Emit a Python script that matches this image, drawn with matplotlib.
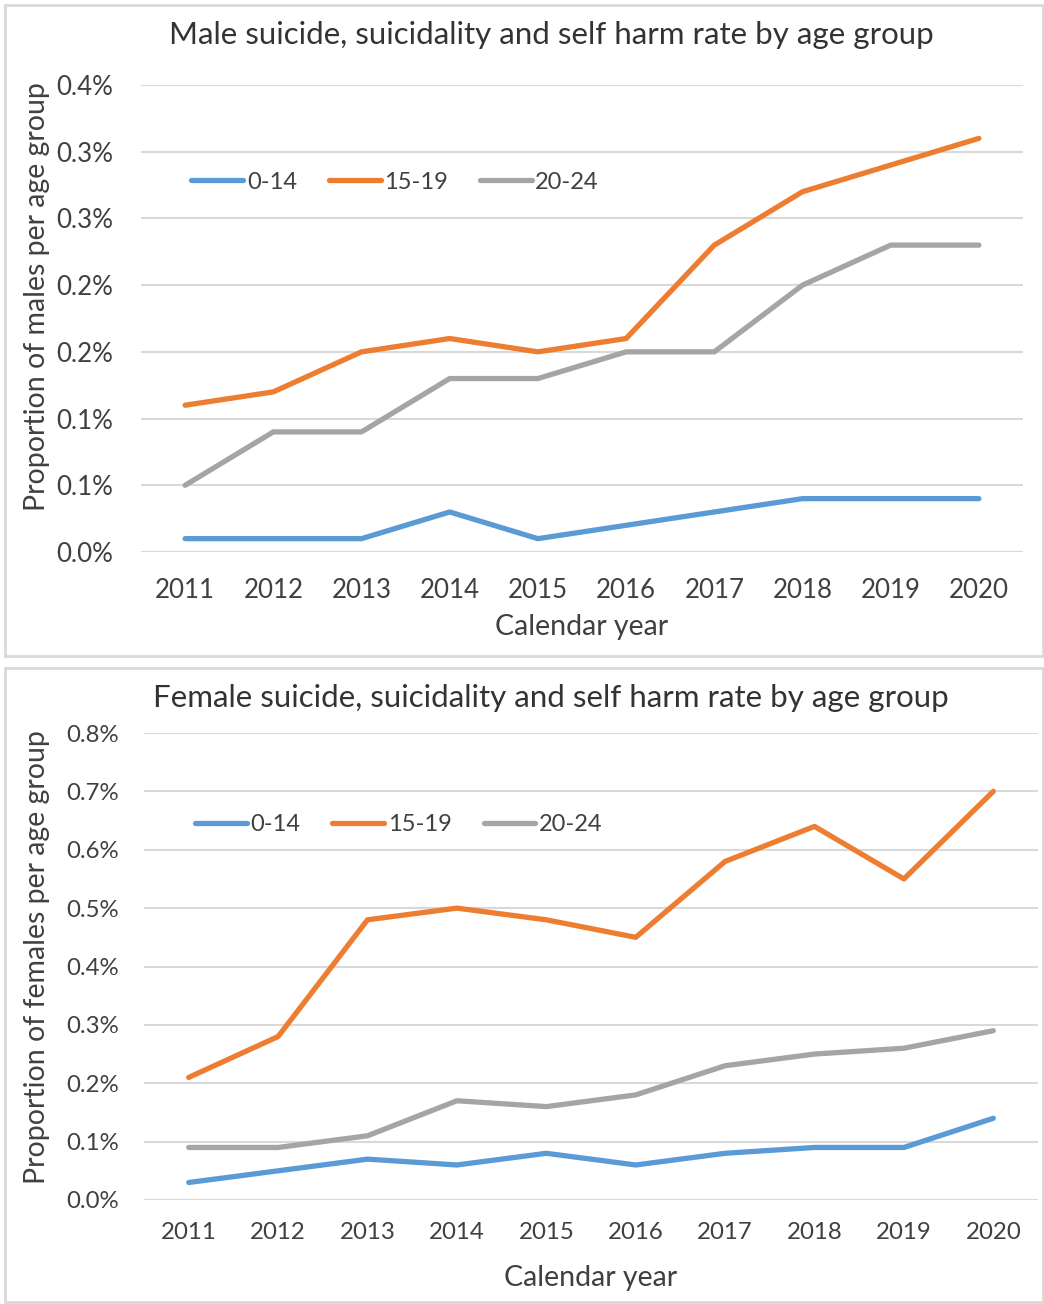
import matplotlib
matplotlib.use("Agg")
import matplotlib.pyplot as plt
from matplotlib.patches import Rectangle
from matplotlib.ticker import FixedLocator, FuncFormatter

plt.rcParams["font.family"] = ["Lato", "DejaVu Sans"]

years = ["2011", "2012", "2013", "2014", "2015", "2016", "2017", "2018", "2019", "2020"]
groups = ["0-14", "15-19", "20-24"]
colors = ["#5B9BD5", "#ED7D31", "#A5A5A5"]

# percent of population per age group
male_0_14 = [0.01, 0.01, 0.01, 0.03, 0.01, 0.02, 0.03, 0.04, 0.04, 0.04]
male_15_19 = [0.11, 0.12, 0.15, 0.16, 0.15, 0.16, 0.23, 0.27, 0.29, 0.31]
male_20_24 = [0.05, 0.09, 0.09, 0.13, 0.13, 0.15, 0.15, 0.20, 0.23, 0.23]

female_0_14 = [0.03, 0.05, 0.07, 0.06, 0.08, 0.06, 0.08, 0.09, 0.09, 0.14]
female_15_19 = [0.21, 0.28, 0.48, 0.50, 0.48, 0.45, 0.58, 0.64, 0.55, 0.70]
female_20_24 = [0.09, 0.09, 0.11, 0.17, 0.16, 0.18, 0.23, 0.25, 0.26, 0.29]

male_ticks = [0.0, 0.05, 0.10, 0.15, 0.20, 0.25, 0.30, 0.35]
female_ticks = [0.0, 0.1, 0.2, 0.3, 0.4, 0.5, 0.6, 0.7, 0.8]

W, H = 1044, 1304
TEXT = "#404040"
GRID = "#D9D9D9"


def fx(px):
    return px / W


def fy(py):
    return 1 - py / H


def pct(v, pos):
    # Excel rounds half up, so 0.05 shows as 0.1%
    return f"{v + 1e-9:.1f}%"


def draw_panel(fig, rect, series, ticks, title, ylabel, tick_fs, legend_pos, title_y,
               ypad, xpad, xlabelpad, ylabel_pos):
    ax = fig.add_axes(rect)
    x = list(range(len(years)))
    for vals, name, c in zip(series, groups, colors):
        ax.plot(x, vals, color=c, lw=3.8, label=name, solid_capstyle="round",
                solid_joinstyle="round")
    ax.set_xlim(-0.5, len(years) - 0.5)
    ax.set_ylim(ticks[0], ticks[-1])
    ax.yaxis.set_major_locator(FixedLocator(ticks))
    ax.yaxis.set_major_formatter(FuncFormatter(pct))
    ax.set_xticks(x)
    ax.set_xticklabels(years)
    ax.grid(axis="y", color=GRID, lw=1.5)
    ax.set_axisbelow(True)
    for s in ax.spines.values():
        s.set_visible(False)
    ax.tick_params(length=0, colors=TEXT, labelsize=tick_fs)
    ax.tick_params(axis="y", pad=ypad)
    ax.tick_params(axis="x", pad=xpad)
    ax.set_xlabel("Calendar year", color=TEXT, fontsize=20.5, labelpad=xlabelpad)
    ax.set_ylabel(ylabel, color=TEXT, fontsize=20.5)
    ax.yaxis.set_label_coords(*ylabel_pos)
    fig.text(0.528, title_y, title, ha="center", va="center", fontsize=22.5, color="#333333")
    ax.legend(loc="center left", bbox_to_anchor=legend_pos, ncol=3, frameon=False,
              fontsize=17, handlelength=2.2, handletextpad=0.15, columnspacing=1.35,
              borderpad=0, borderaxespad=0, labelcolor=TEXT)
    return ax


fig = plt.figure(figsize=(W / 100, H / 100), dpi=100)

# panel borders
fig.patches.append(Rectangle((fx(5), fy(656)), fx(1038), 651 / H, transform=fig.transFigure,
                             fill=False, edgecolor="#D9D9D9", lw=2))
fig.patches.append(Rectangle((fx(5), fy(1302)), fx(1038), 634 / H, transform=fig.transFigure,
                             fill=False, edgecolor="#D9D9D9", lw=2))

draw_panel(fig, [fx(141), fy(552), fx(882), 467 / H],
           [male_0_14, male_15_19, male_20_24], male_ticks,
           "Male suicide, suicidality and self harm rate by age group",
           "Proportion of males per age group", 18.6, (0.057, 0.792), fy(35),
           20, 19, 8, (-0.103, 0.546))
draw_panel(fig, [fx(144), fy(1200), fx(894), 467 / H],
           [female_0_14, female_15_19, female_20_24], female_ticks,
           "Female suicide, suicidality and self harm rate by age group",
           "Proportion of females per age group", 17.3, (0.057, 0.803), fy(698),
           18, 16, 16, (-0.105, 0.520))

fig.savefig("out.png", dpi=100)
